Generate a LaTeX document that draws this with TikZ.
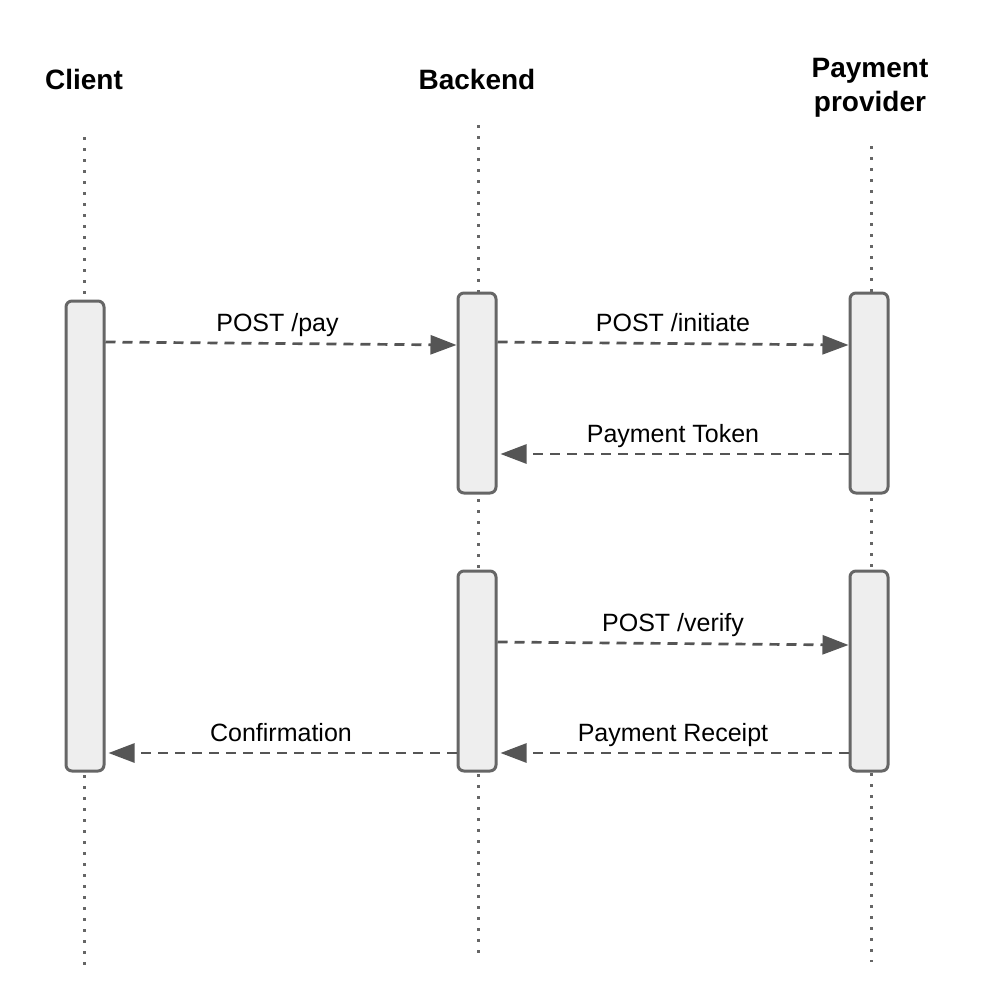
\documentclass[tikz,border=0pt]{standalone}
\usepackage{fontspec}
\setmainfont{Liberation Sans}
\usetikzlibrary{arrows.meta, positioning}

\definecolor{boxline}{HTML}{666666}
\definecolor{boxfill}{HTML}{EEEEEE}
\definecolor{msgline}{HTML}{555555}

\tikzset{
	head/.style={font=\bfseries\fontsize{28}{34}\selectfont, align=center, inner sep=0pt},
	life/.style={draw=boxline, line width=3pt, dash pattern=on 3pt off 8pt},
	actbox/.style={draw=boxline, fill=boxfill, line width=3pt, rounded corners=6pt,
		minimum width=38pt, inner sep=0pt},
	msg/.style={draw=msgline, line width=2.7pt, dash pattern=on 10pt off 7pt,
		-{Triangle[length=26pt, width=19pt]}},
	back/.style={msg, shorten >=3pt},
	msglabel/.style={font=\fontsize{25}{30}\selectfont, anchor=base, yshift=12pt, inner sep=0pt}
}

\begin{document}
\begin{tikzpicture}[x=1pt, y=-1pt]

		\useasboundingbox (0,0) rectangle (984,1004);

		% headers
		\node[head, anchor=base] (client) at (84,89) {Client};
		\node[head, anchor=base] (backend) at (477,89) {Backend};
		\node[head, anchor=center] (provider) at (870,88) {Payment\\provider};

		% lifelines
		\coordinate (clienttop) at (84,137);
		\coordinate (clientend) at (84,966);
		\coordinate (backtop) at (478,125);
		\coordinate (backend_end) at (478,953);
		\coordinate (provtop) at (871,146);
		\coordinate (provend) at (871,962);

		\draw[life] (clienttop) -- (clientend);
		\draw[life] (backtop) -- (backend_end);
		\draw[life] (provtop) -- (provend);

		% activation boxes
		\node[actbox, minimum height=470pt] (clientbox) at (85,536) {};
		\node[actbox, minimum height=200pt] (backone) at (477,393) {};
		\node[actbox, minimum height=200pt] (backtwo) at (477,671) {};
		\node[actbox, minimum height=200pt] (provone) at (869,393) {};
		\node[actbox, minimum height=200pt] (provtwo) at (869,671) {};

		% messages
		\draw[msg] (clientbox.east |- 0,342) -- (backone.west |- 0,345)
			node[msglabel, pos=0.49] (pay) {POST /pay};
		\draw[msg] (backone.east |- 0,342) -- (provone.west |- 0,345)
			node[msglabel, midway] (initiate) {POST /initiate};
		\draw[back] (provone.west |- 0,454) -- (backone.east |- 0,454)
			node[msglabel, midway] (token) {Payment Token};
		\draw[msg] (backtwo.east |- 0,642) -- (provtwo.west |- 0,645)
			node[msglabel, midway] (verify) {POST /verify};
		\draw[back] (provtwo.west |- 0,753) -- (backtwo.east |- 0,753)
			node[msglabel, midway] (receipt) {Payment Receipt};
		\draw[back] (backtwo.west |- 0,753) -- (clientbox.east |- 0,753)
			node[msglabel, midway] (confirm) {Confirmation};

	\end{tikzpicture}
\end{document}
